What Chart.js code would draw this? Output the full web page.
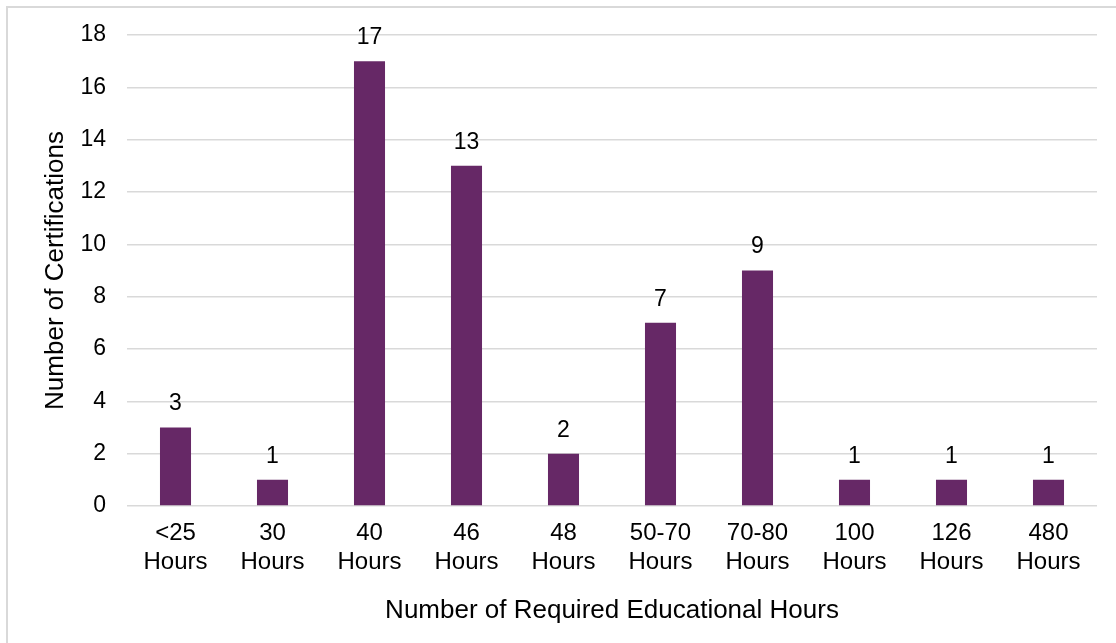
<!DOCTYPE html>
<html>
<head>
<meta charset="utf-8">
<script src="https://cdn.jsdelivr.net/npm/chart.js@4"></script>
<style>
  body { margin: 0; background: #fff; }
  #wrap { position: relative; width: 1116px; height: 643px; }
  #frame { position: absolute; left: 6px; top: 6px; right: 0; bottom: 0; border: 2px solid #d9d9d9; border-right: none; border-bottom: none; pointer-events: none; }
</style>
</head>
<body>
<div id="wrap">
  <canvas id="chart" width="1116" height="643"></canvas>
  <div id="frame"></div>
</div>
<script>
const categories = [["<25", "Hours"], ["30", "Hours"], ["40", "Hours"], ["46", "Hours"], ["48", "Hours"],
  ["50-70", "Hours"], ["70-80", "Hours"], ["100", "Hours"], ["126", "Hours"], ["480", "Hours"]];
const certifications = [3, 1, 17, 13, 2, 7, 9, 1, 1, 1];
const yTicks = [0, 2, 4, 6, 8, 10, 12, 14, 16, 18];

const font = "'Liberation Sans', Arial, sans-serif";

// labels above bars
const valueLabels = {
  id: 'valueLabels',
  afterDatasetsDraw(chart) {
    const ctx = chart.ctx;
    const meta = chart.getDatasetMeta(0);
    ctx.save();
    ctx.fillStyle = '#000';
    ctx.font = '23px ' + font;
    ctx.textAlign = 'center';
    ctx.textBaseline = 'bottom';
    meta.data.forEach((bar, i) => {
      ctx.fillText(certifications[i], bar.x, bar.y - 12);
    });
    ctx.restore();
  }
};

var ctx = document.getElementById('chart');
var myChart = new Chart(ctx, {
  type: 'bar',
  data: {
    labels: categories,
    datasets: [{
      data: certifications,
      backgroundColor: '#662866',
      categoryPercentage: 1,
      barPercentage: 0.32
    }]
  },
  options: {
    responsive: false,
    animation: false,
    layout: { padding: { left: 28, top: 35, right: 19, bottom: 0 } },
    plugins: { legend: { display: false }, tooltip: { enabled: false } },
    scales: {
      x: {
        grid: { display: false, drawTicks: false },
        border: { display: false },
        ticks: { color: '#000', font: { family: font, size: 24 }, padding: 13, maxRotation: 0 },
        title: { display: true, text: 'Number of Required Educational Hours', color: '#000',
          font: { family: font, size: 26 }, padding: { top: 0, bottom: 17 } },
        afterFit(scale) { scale.height = 137; }
      },
      y: {
        min: 0, max: 18,
        afterBuildTicks(scale) { scale.ticks = yTicks.map(v => ({ value: v })); },
        grid: { color: '#d9d9d9', lineWidth: 1.5, drawTicks: false },
        border: { display: false },
        ticks: { color: '#000', font: { family: font, size: 23 }, padding: 21 },
        title: { display: true, text: 'Number of Certifications', color: '#000',
          font: { family: font, size: 26 }, padding: { top: 12, bottom: 0 } },
        afterFit(scale) { scale.width = 99; }
      }
    }
  },
  plugins: [valueLabels]
});
</script>
</body>
</html>
